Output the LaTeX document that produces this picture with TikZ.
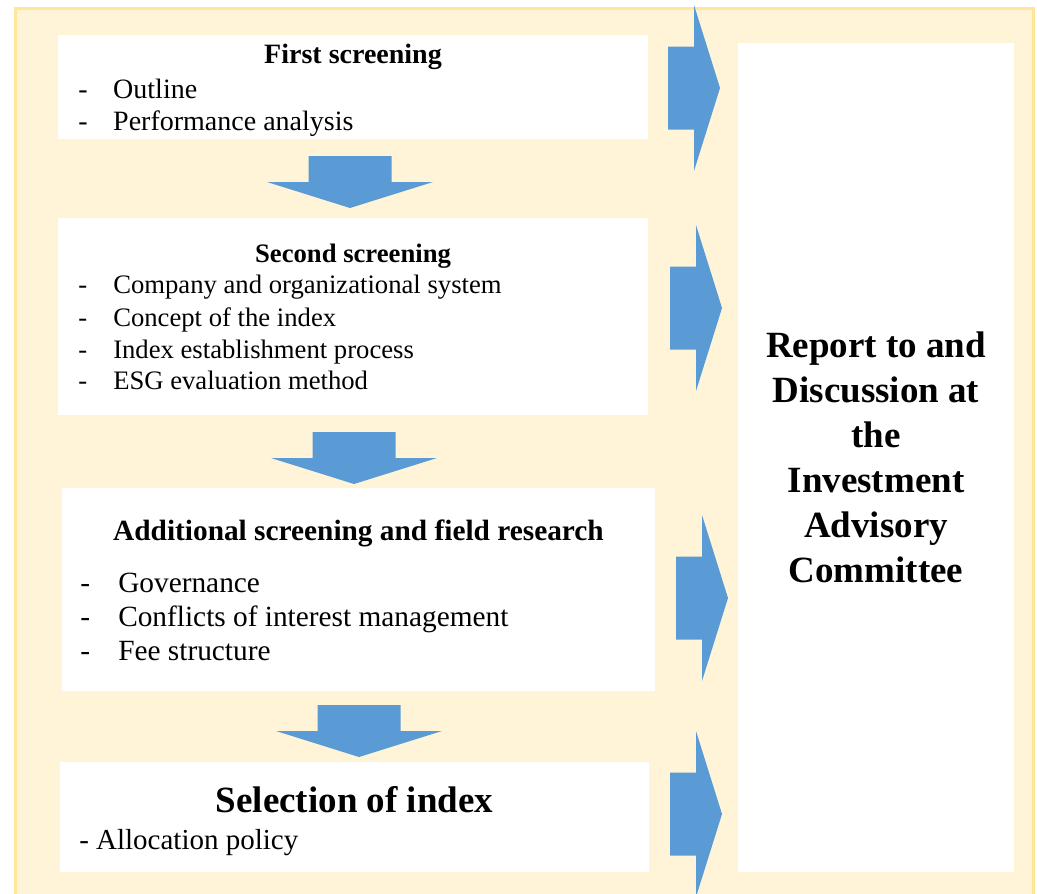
\documentclass[tikz,border=0pt]{standalone}
\usepackage{fontspec}
\setmainfont{Liberation Serif}
\usepackage{tikz}
\definecolor{frame_fill}{RGB}{255, 244, 215}
\definecolor{frame_edge}{RGB}{255, 230, 153}
\definecolor{arr_blue}{RGB}{91, 155, 213}
\tikzstyle{box}=[rectangle,fill=white,inner sep=0pt]
\tikzstyle{ttl}=[anchor=base,inner sep=0pt]
\tikzstyle{itm}=[anchor=base west,inner sep=0pt]
\tikzset{fatarr/.pic={
  \fill[arr_blue] (0,-41.5) -- (26,-41.5) -- (26,-83) -- (52,0)
    -- (26,83) -- (26,41.5) -- (0,41.5) -- cycle;}}
\newcommand{\dashitem}[2]{\makebox[#1][l]{-}#2}

\begin{document}
\begin{tikzpicture}[x=0.75pt,y=-0.75pt]
    \clip (0,0) rectangle (1037,893);
    \draw [line width=2.25pt,draw=frame_edge,fill=frame_fill] (15,8) rectangle (1033,910);
    % boxes
    \node [style=box,minimum width=442.5pt,minimum height=78pt] (first) at (353,87) {};
    \node [style=box,minimum width=442.5pt,minimum height=147.75pt] (second) at (353,316) {};
    \node [style=box,minimum width=444.75pt,minimum height=152.25pt] (extra) at (358.5,589.5) {};
    \node [style=box,minimum width=441.75pt,minimum height=82.5pt] (select) at (354.5,817) {};
    \node [style=box,minimum width=207pt,minimum height=621.75pt] (report) at (876,457.5) {};
    % texts
    \node [style=ttl,font=\bfseries\fontsize{21}{25}\selectfont] (t1) at (353,63) {First screening};
    \node [style=itm,font=\fontsize{21}{25}\selectfont] (i11) at (78,98) {\dashitem{26.25pt}{Outline}};
    \node [style=itm,font=\fontsize{21}{25}\selectfont] (i12) at (78,130) {\dashitem{26.25pt}{Performance analysis}};
    \node [style=ttl,font=\bfseries\fontsize{20}{24}\selectfont] (t2) at (353,262) {Second screening};
    \node [style=itm,font=\fontsize{20}{24}\selectfont] (i21) at (78,293) {\dashitem{26.25pt}{Company and organizational system}};
    \node [style=itm,font=\fontsize{20}{24}\selectfont] (i22) at (78,326) {\dashitem{26.25pt}{Concept of the index}};
    \node [style=itm,font=\fontsize{20}{24}\selectfont] (i23) at (78,358) {\dashitem{26.25pt}{Index establishment process}};
    \node [style=itm,font=\fontsize{20}{24}\selectfont] (i24) at (78,389) {\dashitem{26.25pt}{ESG evaluation method}};
    \node [style=ttl,font=\bfseries\fontsize{22}{26}\selectfont] (t3) at (358.5,540) {Additional screening and field research};
    \node [style=itm,font=\fontsize{22}{26}\selectfont] (i31) at (80,592) {\dashitem{28.5pt}{Governance}};
    \node [style=itm,font=\fontsize{22}{26}\selectfont] (i32) at (80,626) {\dashitem{28.5pt}{Conflicts of interest management}};
    \node [style=itm,font=\fontsize{22}{26}\selectfont] (i33) at (80,660) {\dashitem{28.5pt}{Fee structure}};
    \node [style=ttl,font=\bfseries\fontsize{27.75}{33}\selectfont] (t4) at (354.5,812) {Selection of index};
    \node [style=itm,font=\fontsize{21.75}{26}\selectfont] (i41) at (79,849) {- Allocation policy};
    \node [align=center,inner sep=0pt,font=\bfseries\fontsize{27.75}{33.75}\selectfont] (t5) at (876,457.5)
      {Report to and\\Discussion at\\the\\Investment\\Advisory\\Committee};
    % arrows
    \pic at (350,156) [rotate=-90] {fatarr};
    \pic at (354,432) [rotate=-90] {fatarr};
    \pic at (359,705) [rotate=-90] {fatarr};
    \pic at (668,88) {fatarr};
    \pic at (670,308) {fatarr};
    \pic at (676,598) {fatarr};
    \pic at (670,814) {fatarr};
  \end{tikzpicture}
\end{document}
